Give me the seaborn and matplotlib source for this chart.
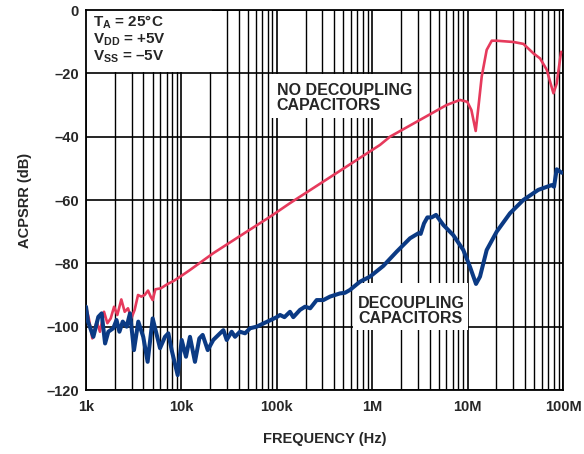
import numpy as np
import pandas as pd
import matplotlib
matplotlib.use("Agg")
import matplotlib.pyplot as plt
from matplotlib.patches import Rectangle
from matplotlib.ticker import FixedLocator, LogLocator, NullFormatter
import seaborn as sns

# ---- data ----
red_freq = [1000, 1070, 1165, 1295, 1400, 1545, 1675, 1815, 1970, 2130, 2345, 2545,
            2755, 2985, 3235, 3510, 3800, 4120, 4470, 4765, 5000, 5335, 6070, 7110,
            8355, 10640, 12300, 21580, 48420, 84920, 137400, 1.208e6, 1.538e6,
            6.026e6, 8.318e6, 9.93e6, 1.096e7, 1.216e7, 1.288e7, 1.406e7, 1.585e7,
            1.791e7, 2.018e7, 3.02e7, 3.846e7, 4.898e7, 5.754e7, 6.761e7, 7.413e7,
            7.943e7, 8.59e7, 9.55e7]
red_db = [-93.7, -97.4, -103.7, -98.4, -101.6, -95.3, -98.9, -97.4, -93.7, -96.3, -91.4, -95.3,
          -94.2, -97.4, -94.7, -90.0, -90.5, -90.0, -88.6, -90.5, -91.6, -88.2, -87.9, -86.6,
          -85.5, -83.4, -82.1, -76.8, -70.0, -65.3, -61.0, -42.6, -40.0,
          -30.0, -28.4, -29.0, -31.6, -38.2, -31.6, -21.0, -12.6,
          -9.7, -9.7, -10.1, -10.7, -13.7, -15.3, -18.9, -23.2,
          -26.3, -23.2, -13.2]

blue_freq = [1000, 1050, 1194, 1346, 1459, 1585, 1714, 1932, 2089, 2239, 2427, 2667,
             2891, 3184, 3532, 3981, 4426, 5000, 5970, 6730, 7295, 7907, 9141, 10070,
             11170, 12300, 13870, 15420, 16710, 18880, 21580, 25410, 27540, 29850,
             33650, 36480, 41110, 46450, 52480, 61520, 72280, 84920, 99770, 108100,
             120200, 137400, 148900, 175000, 197700, 223900, 261800, 307600, 361400,
             459200, 518800, 584800, 744700, 948400, 1.309e6, 1.807e6, 2.489e6,
             3.048e6, 3.221e6, 3.491e6, 3.784e6, 4.198e6, 4.667e6, 5.572e6, 7.079e6,
             9.016e6, 1.059e7, 1.225e7, 1.349e7, 1.585e7, 2.018e7, 2.780e7, 3.837e7,
             5.508e7, 7.603e7, 8.054e7, 8.590e7, 9.705e7]
blue_db = [-93.7, -98.4, -103.2, -96.9, -95.8, -105.3, -101.6, -100.5, -97.9, -101.6, -98.4, -100.0,
           -95.8, -107.4, -98.4, -103.2, -111.1, -97.4, -106.8, -103.2, -102.1, -107.4, -115.3, -104.2,
           -109.5, -103.2, -111.1, -103.7, -102.6, -107.4, -104.2, -102.1, -101.1, -104.2,
           -101.6, -103.2, -101.6, -102.1, -100.5, -100.0, -99.0, -98.0, -97.0, -96.3,
           -97.0, -95.3, -97.0, -94.7, -93.7, -94.2, -91.6, -91.6, -90.5,
           -89.5, -89.3, -88.4, -85.8, -84.2, -80.8, -76.3, -72.1,
           -70.5, -70.7, -67.4, -65.5, -65.5, -64.7, -67.9, -71.1,
           -75.8, -81.1, -86.5, -84.2, -75.8, -70.0, -64.2, -60.0,
           -56.8, -55.3, -55.8, -50.3, -51.4]

x_ticks = [1e3, 1e4, 1e5, 1e6, 1e7, 1e8]
x_ticklabels = ["1k", "10k", "100k", "1M", "10M", "100M"]
y_ticks = [-120, -100, -80, -60, -40, -20, 0]
y_ticklabels = ["\u2013120", "\u2013100", "\u201380", "\u201360", "\u201340", "\u201320", "0"]

red_color = "#E63A5C"
blue_color = "#0B3A84"

# ---- style ----
sns.set_style("white")
plt.rcParams["font.family"] = ["Liberation Sans", "DejaVu Sans"]
plt.rcParams["font.weight"] = "bold"
plt.rcParams["mathtext.fontset"] = "custom"
plt.rcParams["mathtext.rm"] = "Liberation Sans:bold"
plt.rcParams["mathtext.it"] = "Liberation Sans:bold"
plt.rcParams["mathtext.bf"] = "Liberation Sans:bold"

fig = plt.figure(figsize=(5.84, 4.54), dpi=100)
ax = fig.add_axes([86 / 584, (454 - 390) / 454, 477 / 584, 380 / 454])

df_red = pd.DataFrame({"freq": red_freq, "db": red_db})
df_blue = pd.DataFrame({"freq": blue_freq, "db": blue_db})

sns.lineplot(data=df_red, x="freq", y="db", ax=ax, color=red_color, lw=1.9,
             sort=False, estimator=None, zorder=4, solid_joinstyle="round")
sns.lineplot(data=df_blue, x="freq", y="db", ax=ax, color=blue_color, lw=2.9,
             sort=False, estimator=None, zorder=5, solid_joinstyle="round")

ax.set_xscale("log")
ax.set_xlim(1e3, 1e8)
ax.set_ylim(-120, 0)

ax.xaxis.set_major_locator(FixedLocator(x_ticks))
ax.set_xticklabels(x_ticklabels)
ax.xaxis.set_minor_locator(LogLocator(base=10, subs=np.arange(2, 10), numticks=20))
ax.xaxis.set_minor_formatter(NullFormatter())
ax.set_yticks(y_ticks)
ax.set_yticklabels(y_ticklabels)

ax.set_axisbelow(True)
ax.grid(which="major", axis="both", color="black", linewidth=1.2)
ax.grid(which="minor", axis="x", color="black", linewidth=1.0)

ax.tick_params(axis="both", which="both", length=0, labelsize=10.5, pad=5)
for lab in ax.get_xticklabels() + ax.get_yticklabels():
    lab.set_fontweight("bold")
ax.tick_params(axis="x", pad=7)

for sp in ax.spines.values():
    sp.set_visible(True)
    sp.set_color("black")
    sp.set_linewidth(1.3)

ax.set_xlabel("FREQUENCY (Hz)", fontsize=10.5, fontweight="bold", labelpad=13)
ax.set_ylabel("ACPSRR (dB)", fontsize=10.5, fontweight="bold", labelpad=10)

# ---- white annotation boxes ----
for (x0, y0, w, h) in [(0.0, 0.837, 0.264, 0.163),
                       (0.386, 0.716, 0.308, 0.116),
                       (0.560, 0.158, 0.241, 0.124)]:
    ax.add_patch(Rectangle((x0, y0), w, h, transform=ax.transAxes,
                           facecolor="white", edgecolor="none", zorder=2))

tx = 0.0147
fs_tl = 11
ax.text(tx, 0.956, r"T$_{\mathrm{A}}$ = 25°C", transform=ax.transAxes, fontsize=fs_tl,
        fontweight="bold", va="baseline", ha="left", zorder=3)
ax.text(tx, 0.912, r"V$_{\mathrm{DD}}$ = +5V", transform=ax.transAxes, fontsize=fs_tl,
        fontweight="bold", va="baseline", ha="left", zorder=3)
ax.text(tx, 0.868, "V$_{\\mathrm{SS}}$ = \u20135V", transform=ax.transAxes, fontsize=fs_tl,
        fontweight="bold", va="baseline", ha="left", zorder=3)

fs_lab = 11.5
ax.text(0.40, 0.776, "NO DECOUPLING", transform=ax.transAxes, fontsize=fs_lab,
        fontweight="bold", va="baseline", ha="left", zorder=3)
ax.text(0.40, 0.737, "CAPACITORS", transform=ax.transAxes, fontsize=fs_lab,
        fontweight="bold", va="baseline", ha="left", zorder=3)

ax.text(0.570, 0.217, "DECOUPLING", transform=ax.transAxes, fontsize=fs_lab,
        fontweight="bold", va="baseline", ha="left", zorder=3)
ax.text(0.570, 0.177, "CAPACITORS", transform=ax.transAxes, fontsize=fs_lab,
        fontweight="bold", va="baseline", ha="left", zorder=3)

fig.savefig("out.png", dpi=100)
